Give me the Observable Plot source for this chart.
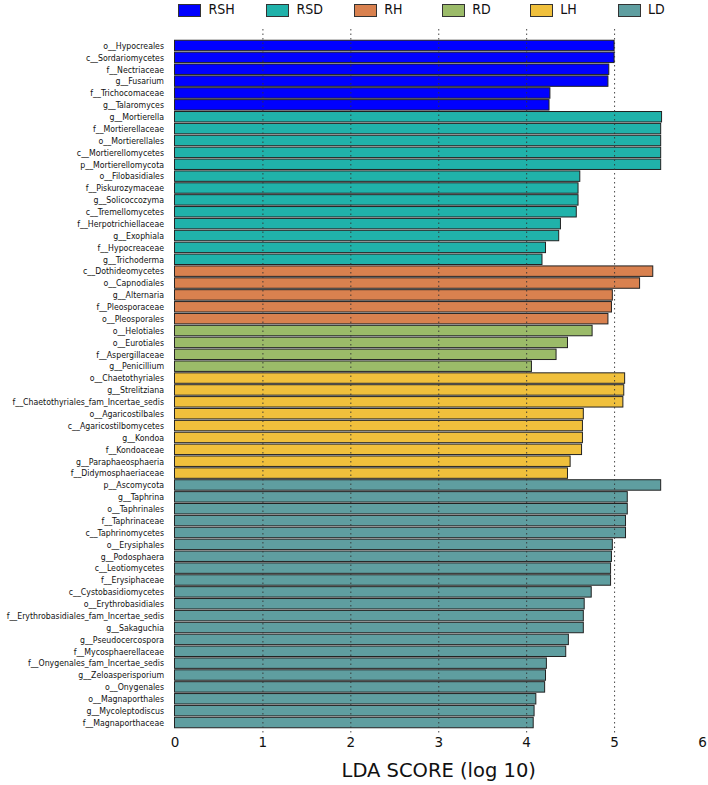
<!DOCTYPE html>
<html>
<head>
<meta charset="utf-8">
<script src="https://cdn.jsdelivr.net/npm/d3@7"></script>
<script src="https://cdn.jsdelivr.net/npm/@observablehq/plot@0.6"></script>
<style>
  body { margin: 0; background: #fff; }
  #wrap { position: relative; width: 708px; height: 785px; }
  #legend { position: absolute; left: 0; top: 0; width: 708px; height: 24px; }
  .sw { position: absolute; top: 4px; width: 21px; height: 11px; border: 1px solid #333; }
  .lt { position: absolute; top: 1px; font: 14px "DejaVu Sans Condensed", "DejaVu Sans", sans-serif; color: #111; }
  svg text { fill: #111; }
</style>
</head>
<body>
<div id="wrap"><div id="legend"></div></div>
<script>
const groups = ["RSH", "RSD", "RH", "RD", "LH", "LD"];
const groupColors = ["#0000ff", "#20b2aa", "#d9814f", "#9bbb69", "#f0c03c", "#5f9ea0"];

const taxa = [
  "o__Hypocreales", "c__Sordariomycetes", "f__Nectriaceae", "g__Fusarium", "f__Trichocomaceae", "g__Talaromyces",
  "g__Mortierella", "f__Mortierellaceae", "o__Mortierellales", "c__Mortierellomycetes", "p__Mortierellomycota",
  "o__Filobasidiales", "f__Piskurozymaceae", "g__Solicoccozyma", "c__Tremellomycetes", "f__Herpotrichiellaceae",
  "g__Exophiala", "f__Hypocreaceae", "g__Trichoderma",
  "c__Dothideomycetes", "o__Capnodiales", "g__Alternaria", "f__Pleosporaceae", "o__Pleosporales",
  "o__Helotiales", "o__Eurotiales", "f__Aspergillaceae", "g__Penicillium",
  "o__Chaetothyriales", "g__Strelitziana", "f__Chaetothyriales_fam_Incertae_sedis", "o__Agaricostilbales",
  "c__Agaricostilbomycetes", "g__Kondoa", "f__Kondoaceae", "g__Paraphaeosphaeria", "f__Didymosphaeriaceae",
  "p__Ascomycota", "g__Taphrina", "o__Taphrinales", "f__Taphrinaceae", "c__Taphrinomycetes", "o__Erysiphales",
  "g__Podosphaera", "c__Leotiomycetes", "f__Erysiphaceae", "c__Cystobasidiomycetes", "o__Erythrobasidiales",
  "f__Erythrobasidiales_fam_Incertae_sedis", "g__Sakaguchia", "g__Pseudocercospora", "f__Mycosphaerellaceae",
  "f__Onygenales_fam_Incertae_sedis", "g__Zeloasperisporium", "o__Onygenales", "o__Magnaporthales",
  "g__Mycoleptodiscus", "f__Magnaporthaceae"
];

const scores = [
  5.00, 5.00, 4.94, 4.93, 4.27, 4.26,
  5.54, 5.53, 5.53, 5.53, 5.53,
  4.61, 4.59, 4.59, 4.57, 4.39,
  4.37, 4.22, 4.18,
  5.44, 5.29, 4.98, 4.97, 4.93,
  4.75, 4.47, 4.34, 4.06,
  5.12, 5.11, 5.10, 4.65,
  4.64, 4.64, 4.63, 4.50, 4.47,
  5.53, 5.15, 5.15, 5.13, 5.13, 4.98,
  4.97, 4.96, 4.96, 4.74, 4.66,
  4.65, 4.65, 4.48, 4.45,
  4.23, 4.22, 4.21, 4.11,
  4.09, 4.08
];

const taxonGroup = [
  "RSH", "RSH", "RSH", "RSH", "RSH", "RSH",
  "RSD", "RSD", "RSD", "RSD", "RSD", "RSD", "RSD", "RSD", "RSD", "RSD", "RSD", "RSD", "RSD",
  "RH", "RH", "RH", "RH", "RH",
  "RD", "RD", "RD", "RD",
  "LH", "LH", "LH", "LH", "LH", "LH", "LH", "LH", "LH",
  "LD", "LD", "LD", "LD", "LD", "LD", "LD", "LD", "LD", "LD", "LD", "LD", "LD", "LD", "LD", "LD", "LD", "LD", "LD", "LD", "LD"
];

const xTicks = [0, 1, 2, 3, 4, 5, 6];
const gridValues = [1, 2, 3, 4, 5];
const xLabel = "LDA SCORE (log 10)";

const data = taxa.map((t, i) => ({taxon: t, score: scores[i], group: taxonGroup[i]}));

const plot = Plot.plot({
  width: 708,
  height: 785,
  marginLeft: 174.5,
  marginRight: 6,
  marginTop: 40,
  marginBottom: 57,
  style: {fontFamily: "DejaVu Sans, sans-serif", background: "white"},
  x: {domain: [0, 6]},
  y: {domain: taxa, paddingInner: 0.12, paddingOuter: 0.02},
  color: {domain: groups, range: groupColors},
  marks: [
    Plot.barX(data, {x: "score", y: "taxon", fill: "group", stroke: "#222", strokeWidth: 1}),
    Plot.ruleX(gridValues, {stroke: "#333", strokeWidth: 0.9, strokeDasharray: "1.5,3", insetTop: -11, insetBottom: -7}),
    Plot.axisY({tickSize: 0, tickPadding: 11, fontSize: 8.7, fontFamily: "DejaVu Sans Condensed, DejaVu Sans, sans-serif", label: null}),
    Plot.axisX(xTicks, {tickSize: 0, tickPadding: 9, fontSize: 13.5, label: null}),
    Plot.text([xLabel], {x: () => 3, frameAnchor: "bottom", dy: 48, fontSize: 19.5, fill: "#111"})
  ]
});

const wrap = document.getElementById("wrap");
wrap.insertBefore(plot, wrap.firstChild);

const xs = plot.scale("x");
const legend = document.getElementById("legend");
groups.forEach((g, i) => {
  const x0 = xs.apply(i);
  const sw = document.createElement("div");
  sw.className = "sw";
  sw.style.left = (x0 + 3.5) + "px";
  sw.style.background = groupColors[i];
  legend.appendChild(sw);
  const t = document.createElement("div");
  t.className = "lt";
  t.style.left = (x0 + 34) + "px";
  t.textContent = g;
  legend.appendChild(t);
});
</script>
</body>
</html>
